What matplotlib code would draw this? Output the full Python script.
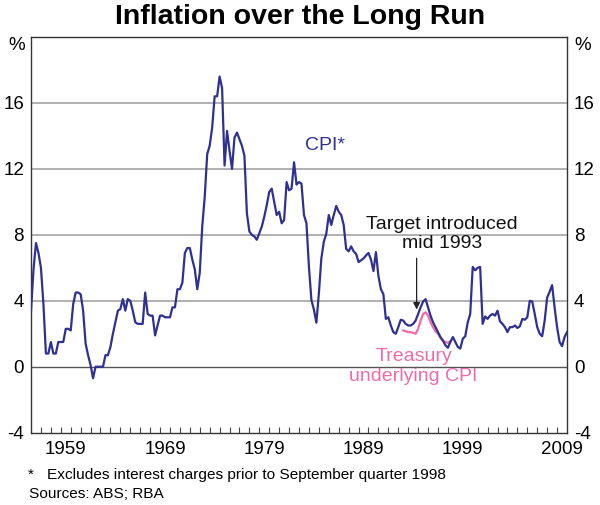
import matplotlib.pyplot as plt
import numpy as np

# year-ended inflation, quarterly, first point Mar 1956
start_year = 1956.0
cpi = [
    3.4, 5.9, 7.5, 6.9, 6.0, 3.8, 0.8, 0.8, 1.5, 0.8,
    0.8, 1.5, 1.5, 1.5, 2.3, 2.3, 2.2, 3.8, 4.5, 4.5,
    4.4, 3.4, 1.4, 0.7, 0.1, -0.7, 0.0, 0.0, 0.0, 0.0,
    0.7, 0.7, 1.2, 2.0, 2.7, 3.4, 3.5, 4.1, 3.4, 4.1,
    4.0, 3.4, 2.7, 2.6, 2.6, 2.6, 4.5, 3.2, 3.1, 3.1,
    1.9, 2.5, 3.1, 3.1, 3.0, 3.0, 3.0, 3.6, 3.6, 4.7,
    4.7, 5.1, 6.9, 7.2, 7.2, 6.5, 5.9, 4.7, 5.7, 8.5,
    10.3, 12.9, 13.4, 14.5, 16.4, 16.4, 17.6, 16.9, 12.2, 14.3,
    13.1, 12.0, 13.9, 14.2, 13.8, 13.4, 12.8, 9.3, 8.2, 8.0,
    7.9, 7.7, 8.1, 8.5, 9.1, 9.8, 10.6, 10.8, 10.0, 9.2,
    9.4, 8.7, 8.9, 11.2, 10.7, 10.8, 12.4, 11.05, 11.2, 11.1,
    9.2, 8.7, 6.06, 4.04, 3.47, 2.67, 4.44, 6.57, 7.58, 8.08,
    9.2, 8.6, 9.2, 9.75, 9.4, 9.2, 8.6, 7.15, 7.0, 7.3,
    7.0, 6.85, 6.35, 6.45, 6.57, 6.75, 6.9, 6.5, 5.8, 6.95,
    5.5, 4.7, 4.4, 2.9, 3.0, 2.5, 2.1, 2.0, 2.4, 2.85,
    2.8, 2.6, 2.5, 2.5, 2.6, 2.8, 3.2, 3.6, 3.95, 4.1,
    3.6, 3.1, 2.7, 2.4, 2.1, 1.8, 1.6, 1.3, 1.15, 1.5,
    1.8, 1.5, 1.2, 1.1, 1.7, 1.85, 2.7, 3.2, 6.05, 5.85,
    6.0, 6.05, 2.6, 3.05, 2.9, 3.1, 3.2, 3.1, 3.4, 2.75,
    2.6, 2.4, 2.1, 2.4, 2.4, 2.5, 2.35, 2.45, 2.9, 2.85,
    3.0, 4.0, 3.95, 3.2, 2.4, 2.0, 1.85, 2.8, 4.2, 4.55,
    4.95, 3.6, 2.4, 1.5, 1.25, 1.8, 2.1,
]
treasury_start = 1993.5
treasury = [
    2.2, 2.15, 2.1, 2.1, 2.05, 2.0, 2.3, 2.8, 3.2, 3.3,
    3.1, 2.7, 2.4, 2.15, 2.0, 1.75, 1.55, 1.5, 1.45, 1.55,
]
label_years = [1959, 1969, 1979, 1989, 1999, 2009]
y_ticks = [-4, 0, 4, 8, 12, 16]

navy = '#2e3192'
pink = '#f06ca8'

plt.rcParams['font.family'] = ['Liberation Sans', 'DejaVu Sans']

cpi_dates = start_year + np.arange(len(cpi)) / 4
tr_dates = treasury_start + np.arange(len(treasury)) / 4

fig = plt.figure(figsize=(6, 5.05), dpi=100)
ax = fig.add_axes([0.0517, 0.1432, 0.8933, 0.7836])

for y in [4, 8, 12, 16]:
    ax.axhline(y, color='#aaaaaa', lw=1.3, zorder=1)
ax.axhline(0, color='#555555', lw=1.0, zorder=1)

ax.plot(cpi_dates, cpi, color=navy, lw=1.6, zorder=3)
ax.plot(tr_dates, treasury, color=pink, lw=1.6, zorder=2)

ax.set_xlim(1956.0, 2010.0)
ax.set_ylim(-4, 20)

ax.set_xticks([y + 0.5 for y in label_years])
ax.set_xticklabels([str(y) for y in label_years])
ax.set_xticks(range(1957, 2010), minor=True)
ax.tick_params(axis='x', which='major', length=0, labelsize=13.5, pad=6)
ax.tick_params(axis='x', which='minor', direction='in', length=4,
               color='#444444', width=0.8)

ax.set_yticks(y_ticks)
ax.set_yticklabels([str(v) for v in y_ticks])
ax.tick_params(axis='y', length=0, labelsize=13.5, labelleft=True,
               labelright=True, pad=5)

for s in ax.spines.values():
    s.set_color('#333333')
    s.set_linewidth(1.0)

ax.text(1985.6, 13.4, 'CPI*', color=navy, fontsize=14, ha='center', va='center')
ax.text(1997.4, 8.05, 'Target introduced\nmid 1993', color='#111111', fontsize=14,
        ha='center', va='center', linespacing=1.2)
ax.annotate('', xy=(1994.85, 3.3), xytext=(1994.85, 6.75),
            arrowprops=dict(arrowstyle='-|>', color='#222222', lw=0.9,
                            mutation_scale=10))
ax.text(1994.55, 0.0, 'Treasury\nunderlying CPI', color=pink, fontsize=14,
        ha='center', va='center', linespacing=1.2)

fig.text(0.5, 1 - 17 / 505, 'Inflation over the Long Run', fontsize=20.5,
         weight='bold', ha='center', va='center')
fig.text(17 / 600, 1 - 45 / 505, '%', fontsize=13.5, ha='center', va='center')
fig.text(583 / 600, 1 - 45 / 505, '%', fontsize=13.5, ha='center', va='center')
fig.text(28 / 600, 1 - 475 / 505, '*', fontsize=11.1, ha='left', va='center')
fig.text(47 / 600, 1 - 475 / 505,
         'Excludes interest charges prior to September quarter 1998',
         fontsize=11.1, ha='left', va='center')
fig.text(29 / 600, 1 - 494 / 505, 'Sources: ABS; RBA', fontsize=11.1,
         ha='left', va='center')

fig.savefig('out.png', dpi=100)
